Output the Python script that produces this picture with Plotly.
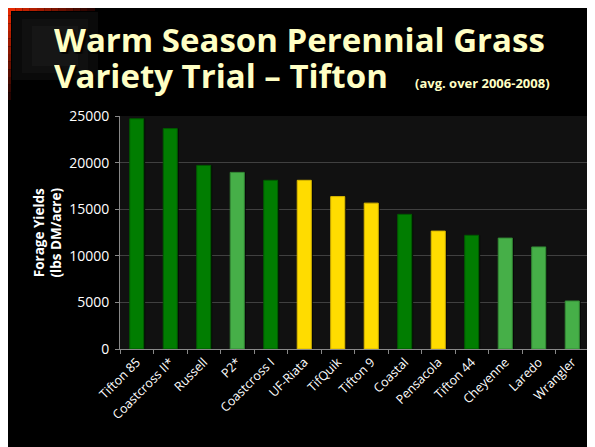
import plotly.graph_objects as go

varieties = ["Tifton 85", "Coastcross II*", "Russell", "P2*", "Coastcross I", "UF-Riata",
             "TifQuik", "Tifton 9", "Coastal", "Pensacola", "Tifton 44", "Cheyenne",
             "Laredo", "Wrangler"]
yields = [24700, 23650, 19700, 18950, 18100, 18100, 16350, 15650, 14450, 12650,
          12200, 11900, 10950, 5150]
groups = ["hybrid", "hybrid", "hybrid", "seeded", "hybrid", "bahia", "bahia", "bahia",
          "hybrid", "bahia", "hybrid", "seeded", "seeded", "seeded"]
y_ticks = [0, 5000, 10000, 15000, 20000, 25000]

fill = {"hybrid": "#017D01", "seeded": "#46AF48", "bahia": "#FFDC00"}
edge = {"hybrid": "#015A01", "seeded": "#338A35", "bahia": "#D9B800"}

W, H = 595, 447
L, R, T, B = 112, 14, 108, 106
pw, ph = W - L - R, H - T - B
OFF = 8  # page offset of the figure in the screenshot


def px(x):
    return (x - OFF - L) / pw


def py(y):
    return (H - B - (y - OFF)) / ph


fig = go.Figure()
# shadow bars
fig.add_trace(go.Bar(x=varieties, y=yields, width=0.42, offset=-0.17,
                     marker=dict(color="#040404", line=dict(width=0)),
                     hoverinfo="skip", showlegend=False))
fig.add_trace(go.Bar(x=varieties, y=yields, width=0.42,
                     marker=dict(color=[fill[g] for g in groups],
                                 line=dict(color=[edge[g] for g in groups], width=1)),
                     showlegend=False))

shapes = []
# faint glow in the corner
for i, c in enumerate(["#0a0a0a", "#101010", "#161616"]):
    d = i * 10
    shapes.append(dict(type="rect", xref="paper", yref="paper", x0=px(12 + d), x1=px(98 - d),
                       y0=py(12 + d * 0.7), y1=py(80 - d * 0.7),
                       fillcolor=c, line=dict(width=0), layer="below"))
# red corner gradient lines
n = 12
for i in range(n):
    f = i / n
    r = int(230 * (1 - f) + 20 * f)
    g = int(40 * (1 - f))
    col = f"rgb({r},{g},0)"
    x0 = 8 + (95 - 8) * i / n
    x1 = 8 + (95 - 8) * (i + 1) / n
    shapes.append(dict(type="rect", xref="paper", yref="paper", x0=px(x0), x1=px(x1),
                       y0=py(8), y1=py(11), fillcolor=col, line=dict(width=0), layer="below"))
    y0 = 8 + (100 - 8) * i / n
    y1 = 8 + (100 - 8) * (i + 1) / n
    shapes.append(dict(type="rect", xref="paper", yref="paper", x0=px(8), x1=px(11),
                       y0=py(y0), y1=py(y1), fillcolor=col, line=dict(width=0), layer="below"))

title_font = dict(family="Open Sans", size=33, color="#FFFFC4", weight="bold",
                  shadow="2px 2px 2px #000000")
annotations = [
    dict(text="Warm Season Perennial Grass", xref="paper", yref="paper",
         x=px(52), y=py(56), xanchor="left", yanchor="bottom", showarrow=False,
         height=37, valign="top", font=title_font),
    dict(text="Variety Trial – Tifton", xref="paper", yref="paper",
         x=px(52), y=py(100), xanchor="left", yanchor="bottom", showarrow=False,
         height=39, valign="bottom", font=title_font),
    dict(text="(avg. over 2006-2008)", xref="paper", yref="paper",
         x=px(552), y=py(94), xanchor="right", yanchor="bottom", showarrow=False,
         font=dict(family="Open Sans", size=13, color="#FFFFC4", weight="bold")),
    dict(text="Forage Yields<br>(lbs DM/acre)", xref="paper", yref="paper",
         x=px(47), y=0.5, xanchor="center", yanchor="middle", showarrow=False, textangle=-90,
         font=dict(family="Open Sans", size=13.5, color="white", weight="bold")),
]

fig.update_layout(
    width=W, height=H,
    margin=dict(l=L, r=R, t=T, b=B, pad=0, autoexpand=False),
    paper_bgcolor="black", plot_bgcolor="#111111",
    barmode="overlay",
    shapes=shapes, annotations=annotations,
    font=dict(family="Open Sans", color="white", size=12),
)
fig.update_xaxes(type="category", tickangle=-45, tickson="boundaries", ticks="outside",
                 ticklen=4, tickcolor="#888888", showline=True, linecolor="#888888",
                 linewidth=1, showgrid=False, tickfont=dict(size=12.5, color="white"),
                 range=[-0.5, len(varieties) - 0.5])
fig.update_yaxes(range=[0, 25000], tickvals=y_ticks, tickformat="d", ticks="outside", ticklen=4,
                 tickcolor="#888888", showline=True, linecolor="#888888", linewidth=1,
                 gridcolor="#404040", gridwidth=1, zeroline=False,
                 tickfont=dict(size=14, color="white"), ticklabelstandoff=3)

fig.write_html("out.html")
